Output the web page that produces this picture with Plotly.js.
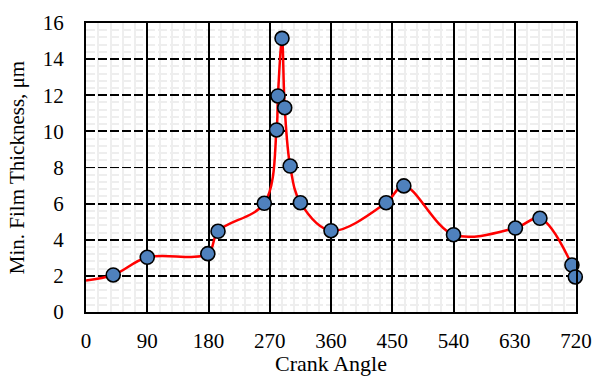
<!DOCTYPE html>
<html>
<head>
<meta charset="utf-8">
<script src="https://cdn.plot.ly/plotly-3.0.1.min.js"></script>
<style>html,body{margin:0;padding:0;background:#fff;}#chart{width:593px;height:376px;}</style>
</head>
<body>
<div id="chart"></div>
<script>
// Smoothed curve (includes start of curve at 0 deg, no marker there)
var lineAngle = [0, 40, 90, 179, 194, 262, 280, 282, 288, 292, 300, 315, 360, 441, 467, 540, 631, 667, 714, 719];
var lineThickness = [1.75, 2.05, 3.03, 3.23, 4.47, 6.02, 10.08, 11.96, 15.15, 11.31, 8.08, 6.05, 4.5, 6.05, 6.98, 4.28, 4.65, 5.19, 2.6, 1.94];
// Marked data points
var pointAngle = [40, 90, 179, 194, 262, 280, 282, 288, 292, 300, 315, 360, 441, 467, 540, 631, 667, 714, 719];
var pointThickness = [2.05, 3.03, 3.23, 4.47, 6.02, 10.08, 11.96, 15.15, 11.31, 8.08, 6.05, 4.5, 6.05, 6.98, 4.28, 4.65, 5.19, 2.6, 1.94];
var xTicks = [0, 90, 180, 270, 360, 450, 540, 630, 720];
var yTicks = [0, 2, 4, 6, 8, 10, 12, 14, 16];

var font = "Liberation Serif, Times New Roman, serif";

var traces = [
  {x: lineAngle, y: lineThickness, type: 'scatter', mode: 'lines',
   line: {color: '#ff0000', width: 2.5, shape: 'spline', smoothing: 1}, hoverinfo: 'skip', cliponaxis: true},
  {x: pointAngle, y: pointThickness, type: 'scatter', mode: 'markers',
   marker: {size: 14, color: '#4F81BD', line: {color: '#000', width: 1.6}}, cliponaxis: false}
];

var layout = {
  width: 593, height: 376,
  margin: {l: 86, r: 17, t: 23, b: 64},
  paper_bgcolor: '#fff', plot_bgcolor: '#fff',
  showlegend: false,
  font: {family: font, size: 21, color: '#000'},
  xaxis: {
    range: [0, 720], tickvals: xTicks, ticktext: xTicks.map(String),
    showgrid: true, gridcolor: '#000', gridwidth: 2,
    minor: {dtick: 18, showgrid: true, gridcolor: '#eeeeee', gridwidth: 2},
    showline: true, linecolor: '#000', linewidth: 2, mirror: true,
    zeroline: false, ticks: 'outside', ticklen: 9, tickcolor: 'rgba(0,0,0,0)',
    tickfont: {family: font, size: 21},
    title: {text: 'Crank Angle', font: {family: font, size: 22}, standoff: 9}
  },
  yaxis: {
    range: [0, 16], tickvals: yTicks, ticktext: yTicks.map(String),
    showgrid: true, gridcolor: '#000', gridwidth: 1.8, griddash: '9px,3px',
    minor: {dtick: 0.4, showgrid: true, gridcolor: '#eeeeee', gridwidth: 2},
    showline: true, linecolor: '#000', linewidth: 2, mirror: true,
    zeroline: false, ticks: 'outside', ticklen: 16, tickcolor: 'rgba(0,0,0,0)',
    tickfont: {family: font, size: 21},
    title: {text: 'Min. Film Thickness, μm', font: {family: font, size: 21}, standoff: 12}
  }
};

Plotly.newPlot('chart', traces, layout, {staticPlot: true, displayModeBar: false});
</script>
</body>
</html>
